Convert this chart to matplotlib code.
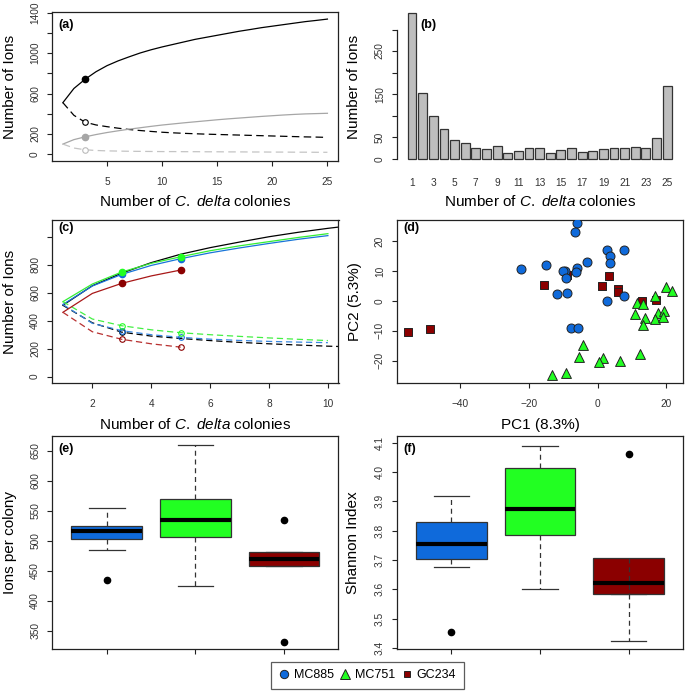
import matplotlib
matplotlib.use('Agg')
import matplotlib.pyplot as plt
from matplotlib.lines import Line2D

plt.rcParams['font.family'] = ['Liberation Sans', 'DejaVu Sans']
plt.rcParams['mathtext.fontset'] = 'custom'
plt.rcParams['mathtext.rm'] = 'Liberation Sans'
plt.rcParams['mathtext.it'] = 'Liberation Sans:italic'

# ---------------- data ----------------
colonies = list(range(1, 26))
pan_all = [510, 650, 740, 815, 875, 922, 962, 1000, 1032, 1060, 1085, 1110, 1135, 1155,
           1175, 1195, 1215, 1232, 1250, 1265, 1280, 1295, 1310, 1322, 1335]
core_all = [510, 385, 318, 290, 273, 258, 245, 235, 226, 218, 212, 207, 203, 199,
            196, 193, 190, 187, 184, 181, 178, 175, 172, 170, 167]
pan_sub = [101, 145, 172, 195, 215, 232, 248, 262, 276, 289, 300, 311, 321, 331,
           341, 350, 358, 366, 374, 381, 388, 394, 399, 402, 405]
core_sub = [101, 62, 45, 38, 34, 32, 30, 29, 28, 27, 27, 26, 26, 25,
            25, 24, 24, 23, 23, 22, 22, 21, 21, 20, 20]

freq_counts = [338, 153, 99, 69, 43, 37, 26, 23, 29, 14, 19, 24, 24, 14,
               21, 25, 16, 18, 22, 25, 24, 28, 24, 49, 168]

c_x10 = list(range(1, 11))
c_x5 = list(range(1, 6))
pan_mc751 = [536, 662, 748, 810, 857, 900, 935, 965, 995, 1022]
pan_mc885 = [516, 648, 731, 795, 843, 885, 920, 952, 982, 1008]
pan_gc234 = [460, 595, 667, 720, 762]
core_mc751 = [536, 412, 364, 335, 314, 300, 288, 277, 267, 258]
core_mc885 = [516, 381, 329, 300, 281, 268, 259, 252, 247, 243]
core_gc234 = [460, 321, 267, 235, 211]

pc1_mc885 = [-6.1, -6.7, -22.3, -14.9, -3.2, 2.6, 7.6, 3.7, 3.6, -9.6, -10.0, -6.0,
             -6.4, -9.2, -11.9, -9.0, 2.6, 7.6, -7.8, -5.6]
pc2_mc885 = [26.3, 23.3, 10.8, 12.1, 13.2, 17.1, 17.2, 15.1, 12.8, 10.2, 9.9, 11.0,
             9.8, 7.8, 2.3, 2.8, 0.1, 1.6, -9.2, -9.2]
pc1_mc751 = [19.9, 21.6, 16.7, 11.5, 13.3, 10.9, 13.8, 13.1, 17.6, 19.3, 16.8, 19.1,
             -4.4, -5.3, 1.5, 0.3, 6.5, 12.3, -13.3, -9.1]
pc2_mc751 = [4.8, 3.5, 1.8, -0.8, -1.0, -4.5, -5.6, -8.2, -4.1, -3.4, -6.0, -5.5,
             -14.6, -18.9, -19.2, -20.6, -20.1, -17.8, -24.9, -24.3]
pc1_gc234 = [-55.2, -48.7, -15.5, -9.0, 3.3, 1.3, 6.0, 6.0, 12.8, 16.9]
pc2_gc234 = [-10.5, -9.4, 5.4, 8.8, 8.5, 4.9, 4.0, 2.9, -0.1, 0.3]

sites = ['MC885', 'MC751', 'GC234']
site_colors = ['#0F6ADB', '#22FF22', '#8B0000']

ions_q1 = [503, 507, 458]
ions_med = [517, 534, 470]
ions_q3 = [525, 569, 482]
ions_lo = [484, 424, 458]
ions_hi = [555, 660, 482]
ions_out = [[435], [], [535, 332]]

sh_q1 = [3.703, 3.786, 3.584]
sh_med = [3.754, 3.875, 3.622]
sh_q3 = [3.830, 4.013, 3.708]
sh_lo = [3.675, 3.600, 3.423]
sh_hi = [3.917, 4.088, 3.584]
sh_out = [[3.455], [], [4.060]]

# ---------------- layout ----------------
W, H = 685, 693
fig = plt.figure(figsize=(W / 100, H / 100), dpi=100)


def add_axes(L, R, T, B):
    return fig.add_axes([L / W, 1 - B / H, (R - L) / W, (B - T) / H])


AX_COL = '#222222'
TICK_FS = 7.3
LAB_FS = 11


def style(ax):
    for s in ax.spines.values():
        s.set_color(AX_COL)
        s.set_linewidth(0.9)
    ax.tick_params(axis='both', length=3.8, width=0.8, color=AX_COL,
                   labelsize=TICK_FS, labelcolor='#333333')
    ax.tick_params(axis='x', pad=8)
    ax.tick_params(axis='y', pad=5, labelrotation=90)


def fix_ylabels(ax):
    plt.setp(ax.get_yticklabels(), va='center')


def place_labels(ax, L, R, T, B, xlab_y, ylab_x):
    w = R - L
    h = B - T
    if xlab_y is not None:
        ax.xaxis.set_label_coords(0.5, (B - xlab_y) / h)
        ax.xaxis.label.set_va('center')
    if ylab_x is not None:
        ax.yaxis.set_label_coords((ylab_x - L) / w, 0.5)
        ax.yaxis.label.set_va('center')


xlabel_text = r'Number of $\it{C.\ delta}$ colonies'

# ---------- (a) ----------
La, Ra, Ta, Ba = 52.3, 338, 12.3, 161
ax = add_axes(La, Ra, Ta, Ba)
style(ax)
ax.plot(colonies, pan_all, color='black', lw=0.9)
ax.plot(colonies, core_all, color='black', lw=0.9, dashes=(6, 3.5))
ax.plot(colonies, pan_sub, color='#A6A6A6', lw=0.9)
ax.plot(colonies, core_sub, color='#C4C4C4', lw=0.9, dashes=(6, 3.5))
ax.plot([colonies[2]], [pan_all[2]], 'o', color='black', ms=4.5)
ax.plot([colonies[2]], [core_all[2]], 'o', mfc='white', mec='black', ms=4, mew=0.8)
ax.plot([colonies[2]], [pan_sub[2]], 'o', color='#A6A6A6', ms=4.5)
ax.plot([colonies[2]], [core_sub[2]], 'o', mfc='white', mec='#BBBBBB', ms=4, mew=0.8)
ax.set_xlim(0.04, 25.96)
ax.set_ylim(-66, 1402)
ax.set_xticks([5, 10, 15, 20, 25])
ax.set_yticks([0, 200, 400, 600, 800, 1000, 1200, 1400],
              ['0', '200', '', '600', '', '1000', '', '1400'])
fix_ylabels(ax)
ax.set_xlabel(xlabel_text, fontsize=LAB_FS)
ax.set_ylabel('Number of Ions', fontsize=LAB_FS)
place_labels(ax, La, Ra, Ta, Ba, 202, 10)
fig.text(58 / W, 1 - 25 / H, '(a)', fontsize=9, fontweight='bold', ha='left', va='center')

# ---------- (b) ----------
Lb, Rb, Tb, Bb = 397, 684, 12.3, 161
ax = add_axes(Lb, Rb, Tb, Bb)
style(ax)
bar_pos = [0.7 + 1.2 * i for i in range(len(freq_counts))]
ax.bar(bar_pos, freq_counts, width=1.0, color='#BEBEBE', edgecolor='#333333', lw=0.9)
for s in ['top', 'right', 'bottom']:
    ax.spines[s].set_visible(False)
ax.spines['left'].set_bounds(0, 300)
ax.set_xlim(-1.0, 31.4)
ax.set_ylim(-5.3, 340)
ax.set_xticks([bar_pos[i] for i in range(0, 25, 2)],
              [str(colonies[i]) for i in range(0, 25, 2)])
ax.tick_params(axis='x', length=0, pad=12)
ax.set_yticks([0, 50, 100, 150, 200, 250, 300],
              ['0', '50', '', '150', '', '250', ''])
fix_ylabels(ax)
ax.set_xlabel(xlabel_text, fontsize=LAB_FS)
ax.set_ylabel('Number of Ions', fontsize=LAB_FS)
place_labels(ax, Lb, Rb, Tb, Bb, 202, 354)
fig.text(420 / W, 1 - 25 / H, '(b)', fontsize=9, fontweight='bold', ha='left', va='center')

# ---------- (c) ----------
Lc, Rc, Tc, Bc = 52.3, 338.5, 220.5, 382.7
ax = add_axes(Lc, Rc, Tc, Bc)
style(ax)
ax.plot(colonies, pan_all, color='black', lw=0.9)
ax.plot(colonies, core_all, color='black', lw=0.9, dashes=(5, 3))
ax.plot([colonies[2]], [core_all[2]], 'o', mfc='none', mec='black', ms=4, mew=0.8)
line_specs = [
    (c_x10, pan_mc885, core_mc885, '#1874D8', '#3A88E0', '#0F6ADB'),
    (c_x10, pan_mc751, core_mc751, '#33EE33', '#44F044', '#22FF22'),
    (c_x5, pan_gc234, core_gc234, '#A81818', '#B83030', '#8B0000'),
]
for xs, pan, core, cs, cd, cp in line_specs:
    ax.plot(xs, pan, color=cs, lw=0.9)
    ax.plot(xs, core, color=cd, lw=0.9, dashes=(5, 3))
    ax.plot([xs[2], xs[4]], [pan[2], pan[4]], 'o', color=cp, ms=4.5)
    ax.plot([xs[2], xs[4]], [core[2], core[4]], 'o', mfc='none', mec=cp, ms=4, mew=0.8)
ax.set_xlim(0.64, 10.36)
ax.set_ylim(-43, 1116)
ax.set_xticks([2, 4, 6, 8, 10])
ax.set_yticks([0, 200, 400, 600, 800, 1000], ['0', '200', '400', '600', '800', ''])
fix_ylabels(ax)
ax.set_xlabel(xlabel_text, fontsize=LAB_FS)
ax.set_ylabel('Number of Ions', fontsize=LAB_FS)
place_labels(ax, Lc, Rc, Tc, Bc, 424.5, 10)
fig.text(58 / W, 1 - 227.5 / H, '(c)', fontsize=9, fontweight='bold', ha='left', va='center')

# ---------- (d) ----------
Ld, Rd, Td, Bd = 397, 683, 220.5, 382.7
ax = add_axes(Ld, Rd, Td, Bd)
style(ax)
ax.scatter(pc1_gc234, pc2_gc234, marker='s', s=30, c=site_colors[2], edgecolors='#222222',
           linewidths=0.7, zorder=3)
ax.scatter(pc1_mc885, pc2_mc885, marker='o', s=42, c=site_colors[0], edgecolors='#222222',
           linewidths=0.7, zorder=3)
ax.scatter(pc1_mc751, pc2_mc751, marker='^', s=50, c=site_colors[1], edgecolors='#222222',
           linewidths=0.7, zorder=3)
ax.set_xlim(-58.3, 24.8)
ax.set_ylim(-27.4, 27.0)
ax.set_xticks([-40, -20, 0, 20])
ax.set_yticks([-20, -10, 0, 10, 20])
fix_ylabels(ax)
ax.set_xlabel('PC1 (8.3%)', fontsize=LAB_FS)
ax.set_ylabel('PC2 (5.3%)', fontsize=LAB_FS)
place_labels(ax, Ld, Rd, Td, Bd, 425, 354.5)
fig.text(403 / W, 1 - 228 / H, '(d)', fontsize=9, fontweight='bold', ha='left', va='center')


# ---------- (e), (f) ----------
def draw_box(ax, q1, med, q3, lo, hi, out):
    stats = []
    for i in range(3):
        stats.append(dict(med=med[i], q1=q1[i], q3=q3[i], whislo=lo[i], whishi=hi[i],
                          fliers=out[i], label=sites[i]))
    bp = ax.bxp(stats, positions=[1, 2, 3], widths=0.8, capwidths=0.4, patch_artist=True,
                boxprops=dict(edgecolor='#333333', linewidth=0.9),
                medianprops=dict(color='black', linewidth=3, solid_capstyle='butt'),
                whiskerprops=dict(color='#333333', linewidth=0.9, dashes=(4, 3)),
                capprops=dict(color='#333333', linewidth=0.9),
                flierprops=dict(marker='o', markerfacecolor='black', markeredgecolor='black',
                                markersize=4.5))
    for patch, col in zip(bp['boxes'], site_colors):
        patch.set_facecolor(col)
    ax.set_xlim(0.385, 3.615)
    ax.set_xticks([1, 2, 3], ['', '', ''])


Le, Re, Te, Be = 52.3, 338.5, 436, 649
ax = add_axes(Le, Re, Te, Be)
style(ax)
draw_box(ax, ions_q1, ions_med, ions_q3, ions_lo, ions_hi, ions_out)
ax.set_ylim(319.5, 674.5)
ax.set_yticks([350, 400, 450, 500, 550, 600, 650])
fix_ylabels(ax)
ax.set_ylabel('Ions per colony', fontsize=LAB_FS)
place_labels(ax, Le, Re, Te, Be, None, 10)
fig.text(58 / W, 1 - 449 / H, '(e)', fontsize=9, fontweight='bold', ha='left', va='center')

Lf, Rf, Tf, Bf = 397, 683, 436, 649
ax = add_axes(Lf, Rf, Tf, Bf)
style(ax)
draw_box(ax, sh_q1, sh_med, sh_q3, sh_lo, sh_hi, sh_out)
ax.set_ylim(3.3965, 4.1227)
ax.set_yticks([3.4, 3.5, 3.6, 3.7, 3.8, 3.9, 4.0, 4.1])
fix_ylabels(ax)
ax.set_ylabel('Shannon Index', fontsize=LAB_FS)
place_labels(ax, Lf, Rf, Tf, Bf, None, 353)
fig.text(403 / W, 1 - 449 / H, '(f)', fontsize=9, fontweight='bold', ha='left', va='center')

# ---------- legend ----------
handles = [
    Line2D([], [], ls='none', marker='o', ms=6, mfc=site_colors[0], mec='#222222', mew=0.7),
    Line2D([], [], ls='none', marker='^', ms=6.5, mfc=site_colors[1], mec='#222222', mew=0.7),
    Line2D([], [], ls='none', marker='s', ms=5, mfc=site_colors[2], mec='#222222', mew=0.7),
]
leg = fig.legend(handles, sites, loc='center', bbox_to_anchor=(367.5 / W, 1 - 675 / H),
                 ncol=3, fontsize=9, frameon=True, fancybox=False, handlelength=0.8,
                 handletextpad=0.4, columnspacing=0.5, borderpad=0.6)
leg.get_frame().set_edgecolor('#333333')
leg.get_frame().set_linewidth(0.9)

fig.savefig('out.png', dpi=100)
